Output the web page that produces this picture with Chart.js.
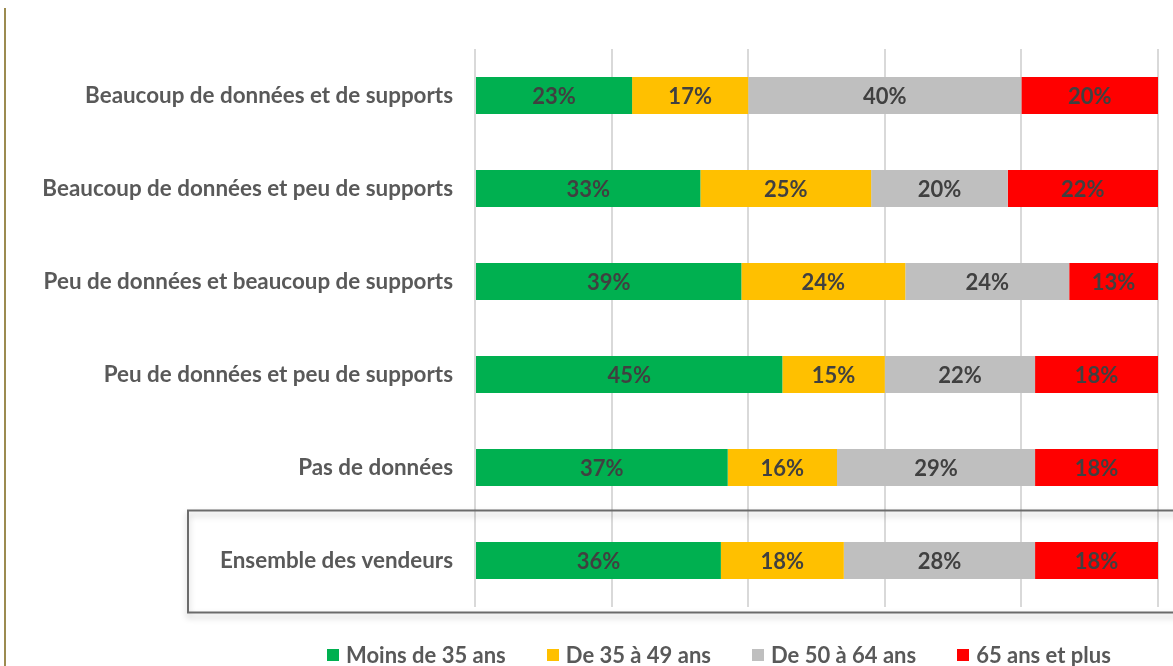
<!DOCTYPE html>
<html lang="fr">
<head>
  <meta charset="UTF-8" />
  <title>Répartition par âge des vendeurs</title>
  <script src="https://cdn.jsdelivr.net/npm/chart.js"></script>
  <style>
    html, body {
      margin: 0;
      padding: 0;
      background: #ffffff;
    }
    .wrap {
      position: relative;
      width: 1173px;
      height: 666px;
      overflow: hidden;
    }
    #legend {
      position: absolute;
      left: 327px;
      top: 642px;
      display: flex;
      gap: 41px;
      font-family: Lato, "Liberation Sans", sans-serif;
      font-weight: bold;
      font-size: 22px;
      color: #595959;
      line-height: 26px;
    }
    #legend .item {
      display: flex;
      align-items: center;
      white-space: nowrap;
    }
    #legend .sw {
      width: 12px;
      height: 12px;
      margin-right: 7px;
    }
  </style>
</head>
<body>
  <div class="wrap">
    <canvas id="ageChart" width="1173" height="666"></canvas>
    <div id="legend"></div>
  </div>

  <script>
    // Catégories (axe vertical)
    const categories = [
      'Beaucoup de données et de supports',
      'Beaucoup de données et peu de supports',
      'Peu de données et beaucoup de supports',
      'Peu de données et peu de supports',
      'Pas de données',
      'Ensemble des vendeurs'
    ];

    // Séries (en %)
    const moins35 = [23, 33, 39, 45, 37, 36];
    const de35a49 = [17, 25, 24, 15, 16, 18];
    const de50a64 = [40, 20, 24, 22, 29, 28];
    const plus65  = [20, 22, 13, 18, 18, 18];

    const seriesLabels = ['Moins de 35 ans', 'De 35 à 49 ans', 'De 50 à 64 ans', '65 ans et plus'];
    const seriesColors = ['#00b050', '#ffc000', '#bfbfbf', '#ff0000'];

    const FONT = 'Lato, "Liberation Sans", sans-serif';

    // étiquettes de valeurs au centre des barres
    const valueLabels = {
      id: 'valueLabels',
      afterDatasetsDraw(chart) {
        const ctx = chart.ctx;
        ctx.save();
        ctx.font = 'bold 22px ' + FONT;
        ctx.fillStyle = '#404040';
        ctx.textAlign = 'center';
        ctx.textBaseline = 'middle';
        chart.data.datasets.forEach((ds, i) => {
          const meta = chart.getDatasetMeta(i);
          meta.data.forEach((bar, j) => {
            const x = (bar.x + bar.base) / 2;
            ctx.fillText(ds.data[j] + '%', x, bar.y + 1);
          });
        });
        ctx.restore();
      }
    };

    // cadre autour de "Ensemble des vendeurs" + trait vertical à gauche
    const decorations = {
      id: 'decorations',
      beforeDatasetsDraw(chart) {
        const ctx = chart.ctx;
        const y = chart.scales.y.getPixelForValue(categories.length - 1);
        ctx.save();
        ctx.shadowColor = 'rgba(0,0,0,0.25)';
        ctx.shadowBlur = 6;
        ctx.shadowOffsetY = 4;
        ctx.strokeStyle = '#6b6b6b';
        ctx.lineWidth = 2;
        ctx.strokeRect(188, y - 50, 1000, 102);
        ctx.restore();

        ctx.save();
        ctx.strokeStyle = '#9c8b50';
        ctx.lineWidth = 2;
        ctx.beginPath();
        ctx.moveTo(5, 8);
        ctx.lineTo(5, 666);
        ctx.stroke();
        ctx.restore();
      }
    };

    const datasets = [moins35, de35a49, de50a64, plus65].map((data, i) => ({
      label: seriesLabels[i],
      data,
      backgroundColor: seriesColors[i],
      borderWidth: 0,
      barPercentage: 0.4,
      categoryPercentage: 1.0
    }));

    new Chart(document.getElementById('ageChart'), {
      type: 'bar',
      data: { labels: categories, datasets },
      options: {
        indexAxis: 'y',
        responsive: false,
        animation: false,
        layout: {
          padding: { top: 49, right: 15, left: 0, bottom: 59 }
        },
        scales: {
          x: {
            stacked: true,
            min: 0,
            max: 100,
            ticks: { display: false, stepSize: 20 },
            grid: { color: '#d9d9d9', lineWidth: 2, drawTicks: false },
            border: { display: false }
          },
          y: {
            stacked: true,
            afterFit(scale) { scale.width = 475; },
            grid: { display: false },
            border: { display: false },
            ticks: {
              padding: 14,
              color: '#595959',
              font: { family: FONT, size: 22.4, weight: 'bold' }
            }
          }
        },
        plugins: {
          legend: { display: false },
          tooltip: { enabled: false }
        }
      },
      plugins: [decorations, valueLabels]
    });

    // légende
    const legend = document.getElementById('legend');
    seriesLabels.forEach((name, i) => {
      const item = document.createElement('div');
      item.className = 'item';
      item.innerHTML = '<span class="sw" style="background:' + seriesColors[i] + '"></span>' + name;
      legend.appendChild(item);
    });
  </script>
</body>
</html>
